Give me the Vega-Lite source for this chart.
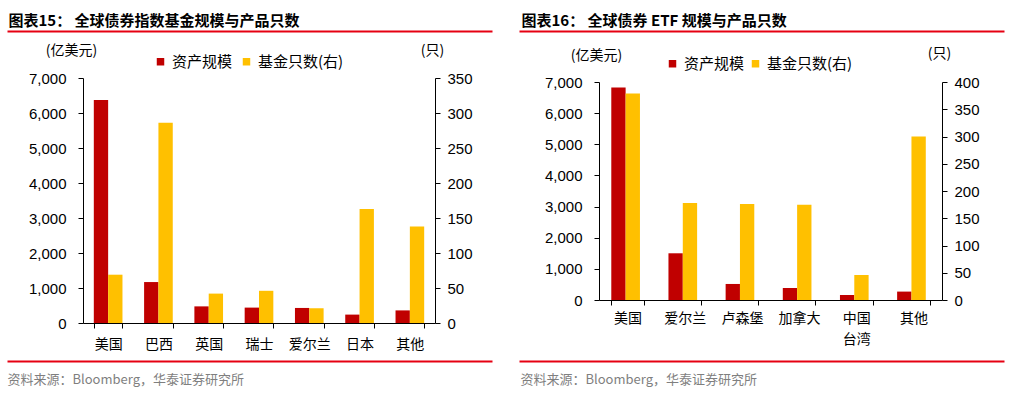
{
  "$schema": "https://vega.github.io/schema/vega-lite/v6.json",
  "padding": {"left": 7, "top": 0, "right": 5, "bottom": 5},
  "background": "white",
  "datasets": {
    "fund": [
      {"country": "美国", "series": "资产规模", "value": 6370},
      {"country": "美国", "series": "基金只数(右)", "value": 69},
      {"country": "巴西", "series": "资产规模", "value": 1170},
      {"country": "巴西", "series": "基金只数(右)", "value": 286},
      {"country": "英国", "series": "资产规模", "value": 475},
      {"country": "英国", "series": "基金只数(右)", "value": 42},
      {"country": "瑞士", "series": "资产规模", "value": 440},
      {"country": "瑞士", "series": "基金只数(右)", "value": 46},
      {"country": "爱尔兰", "series": "资产规模", "value": 430},
      {"country": "爱尔兰", "series": "基金只数(右)", "value": 21},
      {"country": "日本", "series": "资产规模", "value": 240},
      {"country": "日本", "series": "基金只数(右)", "value": 163},
      {"country": "其他", "series": "资产规模", "value": 360},
      {"country": "其他", "series": "基金只数(右)", "value": 138}
    ],
    "etf": [
      {"country": "美国", "series": "资产规模", "value": 6820},
      {"country": "美国", "series": "基金只数(右)", "value": 379},
      {"country": "爱尔兰", "series": "资产规模", "value": 1500},
      {"country": "爱尔兰", "series": "基金只数(右)", "value": 178},
      {"country": "卢森堡", "series": "资产规模", "value": 515},
      {"country": "卢森堡", "series": "基金只数(右)", "value": 176},
      {"country": "加拿大", "series": "资产规模", "value": 385},
      {"country": "加拿大", "series": "基金只数(右)", "value": 175},
      {"country": "中国台湾", "series": "资产规模", "value": 160},
      {"country": "中国台湾", "series": "基金只数(右)", "value": 46},
      {"country": "其他", "series": "资产规模", "value": 270},
      {"country": "其他", "series": "基金只数(右)", "value": 300}
    ],
    "dummy": [{"p": 0.5}]
  },
  "spacing": -48,
  "resolve": {"scale": {"color": "independent", "x": "independent", "y": "independent"}, "legend": {"color": "independent"}},
  "hconcat": [
    {
      "spacing": 38,
      "bounds": "flush",
      "resolve": {"scale": {"color": "independent", "x": "independent", "y": "independent"}, "legend": {"color": "independent"}},
      "vconcat": [
        {
          "width": 352,
          "height": 40,
          "data": {"name": "dummy"},
          "mark": {"type": "point", "opacity": 0, "size": 1},
          "encoding": {
            "x": {
              "field": "p",
              "type": "quantitative",
              "scale": {"domain": [0, 1], "range": [-76, 409], "nice": false, "zero": false},
              "axis": {
                "orient": "bottom", "offset": -9, "domainColor": "#e60012", "domainWidth": 2,
                "ticks": false, "labels": false, "grid": false,
                "title": "图表15：   全球债券指数基金规模与产品只数",
                "titleAnchor": "start", "titleAlign": "left", "titleX": -75, "titleY": -6,
                "titleBaseline": "alphabetic", "titleFont": "Noto Sans CJK SC", "titleFontSize": 15,
                "titleFontWeight": "bold", "titleColor": "#000000"
              }
            }
          }
        },
        {
          "width": 352,
          "height": 245,
          "data": {"name": "fund"},
          "encoding": {
            "x": {
              "field": "country", "type": "nominal", "sort": null,
              "scale": {"domain": ["美国", "巴西", "英国", "瑞士", "爱尔兰", "日本", "其他"], "paddingInner": 0.43, "paddingOuter": 0.215},
              "axis": {"orient": "bottom", "title": null, "tickBand": "extent", "tickSize": 5, "labelPadding": 9, "labelAngle": 0,
                       "labelFont": "Noto Sans CJK SC", "labelFontSize": 14, "labelColor": "#000000"}
            },
            "xOffset": {"field": "series", "type": "nominal", "sort": null,
                        "scale": {"domain": ["资产规模", "基金只数(右)"], "paddingInner": 0, "paddingOuter": 0}},
            "color": {
              "field": "series", "type": "nominal",
              "scale": {"domain": ["资产规模", "基金只数(右)"], "range": ["#c00000", "#ffc000"]},
              "legend": {"orient": "none", "legendX": 70, "legendY": -24, "direction": "horizontal", "title": null,
                         "symbolType": "square", "symbolSize": 56, "symbolStrokeWidth": 0, "labelFont": "Noto Sans CJK SC",
                         "labelFontSize": 15, "labelColor": "#000000", "columnPadding": 6, "labelOffset": 4}
            }
          },
          "layer": [
            {
              "transform": [{"filter": "datum.series === '资产规模'"}],
              "mark": {"type": "bar"},
              "encoding": {
                "y": {"field": "value", "type": "quantitative",
                      "scale": {"domain": [0, 7000], "nice": false},
                      "axis": {"orient": "left", "values": [0, 1000, 2000, 3000, 4000, 5000, 6000, 7000], "format": ",.0f",
                               "title": "(亿美元)", "titleAngle": 0, "titleX": -12, "titleY": -28, "titleAlign": "center",
                               "titleBaseline": "middle", "tickSize": 5, "labelPadding": 12}}
              }
            },
            {
              "transform": [{"filter": "datum.series !== '资产规模'"}],
              "mark": {"type": "bar"},
              "encoding": {
                "y": {"field": "value", "type": "quantitative",
                      "scale": {"domain": [0, 350], "nice": false},
                      "axis": {"orient": "right", "values": [0, 50, 100, 150, 200, 250, 300, 350], "format": "d",
                               "title": "(只)", "titleAngle": 0, "titleX": -3, "titleY": -28, "titleAlign": "center",
                               "titleBaseline": "middle", "tickSize": 5, "labelPadding": 7}}
              }
            }
          ],
          "resolve": {"scale": {"y": "independent"}}
        },
        {
          "width": 352,
          "height": 30,
          "data": {"name": "dummy"},
          "mark": {"type": "point", "opacity": 0, "size": 1},
          "encoding": {
            "x": {
              "field": "p",
              "type": "quantitative",
              "scale": {"domain": [0, 1], "range": [-76, 409], "nice": false, "zero": false},
              "axis": {
                "orient": "top", "domainColor": "#e60012", "domainWidth": 2,
                "ticks": false, "labels": false, "grid": false,
                "title": "资料来源：Bloomberg，华泰证券研究所",
                "titleAnchor": "start", "titleAlign": "left", "titleX": -76, "titleY": 22,
                "titleBaseline": "alphabetic", "titleFont": "Noto Sans CJK SC", "titleFontSize": 13,
                "titleFontWeight": "normal", "titleColor": "#7f7f7f"
              }
            }
          }
        }
      ]
    },
    {
      "spacing": 61,
      "bounds": "flush",
      "resolve": {"scale": {"color": "independent", "x": "independent", "y": "independent"}, "legend": {"color": "independent"}},
      "vconcat": [
        {
          "width": 343,
          "height": 21,
          "data": {"name": "dummy"},
          "mark": {"type": "point", "opacity": 0, "size": 1},
          "encoding": {
            "x": {
              "field": "p",
              "type": "quantitative",
              "scale": {"domain": [0, 1], "range": [-80, 405], "nice": false, "zero": false},
              "axis": {
                "orient": "bottom", "offset": 10, "domainColor": "#e60012", "domainWidth": 2,
                "ticks": false, "labels": false, "grid": false,
                "title": "图表16：   全球债券 ETF 规模与产品只数",
                "titleAnchor": "start", "titleAlign": "left", "titleX": -78, "titleY": -6,
                "titleBaseline": "alphabetic", "titleFont": "Noto Sans CJK SC", "titleFontSize": 15,
                "titleFontWeight": "bold", "titleColor": "#000000"
              }
            }
          }
        },
        {
          "width": 343,
          "height": 218,
          "data": {"name": "etf"},
          "encoding": {
            "x": {
              "field": "country", "type": "nominal", "sort": null,
              "scale": {"domain": ["美国", "爱尔兰", "卢森堡", "加拿大", "中国台湾", "其他"], "paddingInner": 0.43, "paddingOuter": 0.215},
              "axis": {"orient": "bottom", "title": null, "tickBand": "extent", "tickSize": 5, "labelPadding": 6, "labelAngle": 0,
                       "labelFont": "Noto Sans CJK SC", "labelFontSize": 14, "labelColor": "#000000", "labelLineHeight": 21,
                       "labelExpr": "datum.value === '中国台湾' ? ['中国', '台湾'] : datum.value"}
            },
            "xOffset": {"field": "series", "type": "nominal", "sort": null,
                        "scale": {"domain": ["资产规模", "基金只数(右)"], "paddingInner": 0, "paddingOuter": 0}},
            "color": {
              "field": "series", "type": "nominal",
              "scale": {"domain": ["资产规模", "基金只数(右)"], "range": ["#c00000", "#ffc000"]},
              "legend": {"orient": "none", "legendX": 66, "legendY": -26, "direction": "horizontal", "title": null,
                         "symbolType": "square", "symbolSize": 56, "symbolStrokeWidth": 0, "labelFont": "Noto Sans CJK SC",
                         "labelFontSize": 15, "labelColor": "#000000", "columnPadding": 3, "labelOffset": 4}
            }
          },
          "layer": [
            {
              "transform": [{"filter": "datum.series === '资产规模'"}],
              "mark": {"type": "bar"},
              "encoding": {
                "y": {"field": "value", "type": "quantitative",
                      "scale": {"domain": [0, 7000], "nice": false},
                      "axis": {"orient": "left", "values": [0, 1000, 2000, 3000, 4000, 5000, 6000, 7000], "format": ",.0f",
                               "title": "(亿美元)", "titleAngle": 0, "titleX": -3, "titleY": -27, "titleAlign": "center",
                               "titleBaseline": "middle", "tickSize": 5, "labelPadding": 12}}
              }
            },
            {
              "transform": [{"filter": "datum.series !== '资产规模'"}],
              "mark": {"type": "bar"},
              "encoding": {
                "y": {"field": "value", "type": "quantitative",
                      "scale": {"domain": [0, 400], "nice": false},
                      "axis": {"orient": "right", "values": [0, 50, 100, 150, 200, 250, 300, 350, 400], "format": "d",
                               "title": "(只)", "titleAngle": 0, "titleX": -3, "titleY": -29, "titleAlign": "center",
                               "titleBaseline": "middle", "tickSize": 5, "labelPadding": 7}}
              }
            }
          ],
          "resolve": {"scale": {"y": "independent"}}
        },
        {
          "width": 343,
          "height": 30,
          "data": {"name": "dummy"},
          "mark": {"type": "point", "opacity": 0, "size": 1},
          "encoding": {
            "x": {
              "field": "p",
              "type": "quantitative",
              "scale": {"domain": [0, 1], "range": [-80, 405], "nice": false, "zero": false},
              "axis": {
                "orient": "top", "domainColor": "#e60012", "domainWidth": 2,
                "ticks": false, "labels": false, "grid": false,
                "title": "资料来源：Bloomberg，华泰证券研究所",
                "titleAnchor": "start", "titleAlign": "left", "titleX": -79, "titleY": 22,
                "titleBaseline": "alphabetic", "titleFont": "Noto Sans CJK SC", "titleFontSize": 13,
                "titleFontWeight": "normal", "titleColor": "#7f7f7f"
              }
            }
          }
        }
      ]
    }
  ],
  "config": {
    "view": {"stroke": null},
    "font": "Noto Sans CJK SC",
    "axis": {"domainColor": "#000000", "tickColor": "#000000", "labelColor": "#000000", "titleColor": "#000000",
             "grid": false, "titleFontWeight": "normal", "domainWidth": 1, "tickWidth": 1},
    "axisY": {"labelFont": "Liberation Sans", "labelFontSize": 15, "titleFont": "Noto Sans CJK SC", "titleFontSize": 14}
  }
}
